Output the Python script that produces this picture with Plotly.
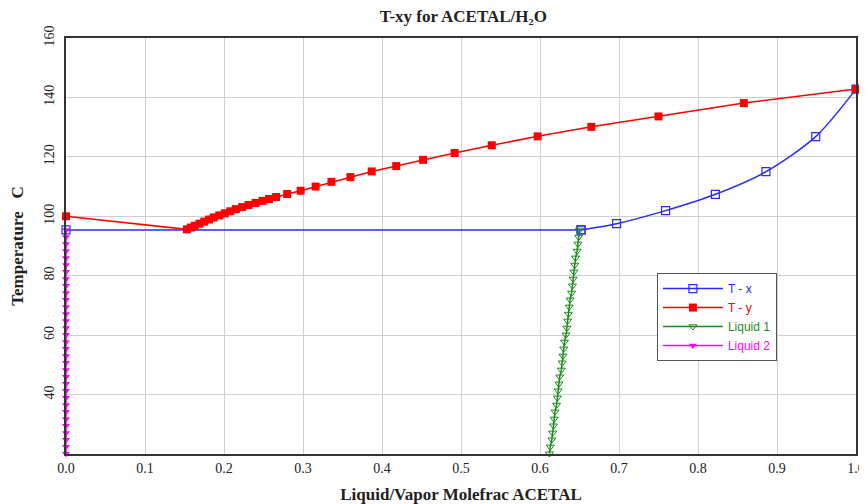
import plotly.graph_objects as go

# ---- data ----
tx_x = [0.0, 0.652, 0.697, 0.759, 0.822, 0.886, 0.949, 1.0]
tx_t = [95.4, 95.4, 97.5, 101.9, 107.4, 115.0, 126.8, 142.8]

ty_x = [0.0, 0.153, 0.158, 0.163, 0.169, 0.175, 0.181, 0.187, 0.194, 0.201, 0.208,
        0.215, 0.223, 0.231, 0.240, 0.249, 0.257, 0.266, 0.280, 0.297, 0.316,
        0.336, 0.360, 0.387, 0.418, 0.452, 0.492, 0.539, 0.597, 0.665, 0.750,
        0.858, 1.0]
ty_t = [100.0, 95.6, 96.2, 96.8, 97.5, 98.2, 98.9, 99.6, 100.3, 101.0, 101.7,
        102.4, 103.1, 103.8, 104.5, 105.2, 105.8, 106.5, 107.5, 108.6, 110.0,
        111.6, 113.2, 115.1, 116.9, 119.0, 121.3, 123.9, 126.9, 130.1, 133.6,
        138.1, 142.8]

liq_t = [95.4, 93.0, 90.7, 88.3, 86.0, 83.6, 81.3, 78.9, 76.6, 74.2, 71.9, 69.5,
         67.1, 64.8, 62.4, 60.1, 57.7, 55.4, 53.0, 50.7, 48.3, 46.0, 43.6, 41.3,
         38.9, 36.5, 34.2, 31.8, 29.5, 27.1, 24.8, 22.4, 20.1]
liq1_x = [0.650, 0.649, 0.648, 0.647, 0.645, 0.644, 0.643, 0.642, 0.641, 0.640,
          0.638, 0.637, 0.636, 0.635, 0.634, 0.633, 0.631, 0.630, 0.629, 0.628,
          0.627, 0.625, 0.624, 0.623, 0.622, 0.621, 0.619, 0.618, 0.617, 0.616,
          0.615, 0.613, 0.612]
liq2_x = [0.0] * len(liq_t)

x_ticks = [0.0, 0.1, 0.2, 0.3, 0.4, 0.5, 0.6, 0.7, 0.8, 0.9, 1.0]
y_ticks = [40, 60, 80, 100, 120, 140, 160]

BLUE = "#2a2aff"
RED = "#ff0000"
GREEN = "#1a8c1a"
MAG = "#ff00ff"

fig = go.Figure()
# T - x: flat three-phase segment (linear) + liquid branch (smooth)
fig.add_trace(go.Scatter(
    x=tx_x[:2], y=tx_t[:2], mode="lines+markers", cliponaxis=False,
    legendgroup="tx", showlegend=False,
    line=dict(color=BLUE, width=1.5),
    marker=dict(symbol="square-open", size=8, color=BLUE, line=dict(width=1.2))))
fig.add_trace(go.Scatter(
    x=tx_x[1:], y=tx_t[1:], mode="lines+markers", cliponaxis=False,
    legendgroup="tx", name=f"<span style='color:{BLUE}'>T - x</span>",
    line=dict(color=BLUE, width=1.5, shape="spline", smoothing=0.8),
    marker=dict(symbol="square-open", size=8, color=BLUE, line=dict(width=1.2))))
fig.add_trace(go.Scatter(
    x=ty_x, y=ty_t, mode="lines+markers", cliponaxis=False,
    name=f"<span style='color:{RED}'>T - y</span>",
    line=dict(color=RED, width=1.5),
    marker=dict(symbol="square", size=8, color=RED)))
fig.add_trace(go.Scatter(
    x=liq1_x, y=liq_t, mode="lines+markers", cliponaxis=False,
    name=f"<span style='color:{GREEN}'>Liquid 1</span>",
    line=dict(color=GREEN, width=1.5),
    marker=dict(symbol="triangle-down-open", size=7, color=GREEN, line=dict(width=1))))
fig.add_trace(go.Scatter(
    x=liq2_x, y=liq_t, mode="lines+markers", cliponaxis=False,
    name=f"<span style='color:{MAG}'>Liquid 2</span>",
    line=dict(color=MAG, width=1.5),
    marker=dict(symbol="triangle-down", size=7, color=MAG)))

serif = "Liberation Serif, Times New Roman, serif"
fig.update_layout(
    width=859, height=496,
    margin=dict(l=58, r=11, t=30, b=50),
    paper_bgcolor="white", plot_bgcolor="white",
    font=dict(family=serif, size=14, color="#222"),
    title=dict(text="<b>T-xy for ACETAL/H₂O</b>", x=0.53, xanchor="center",
               y=0.984, yanchor="middle",
               font=dict(family=serif, size=17, color="#222")),
    showlegend=True,
    legend=dict(x=0.748, y=0.435, xanchor="left", yanchor="top",
                bgcolor="white", bordercolor="#555", borderwidth=1,
                font=dict(family="Liberation Sans, Arial, sans-serif", size=12),
                itemwidth=60, tracegroupgap=0),
    xaxis=dict(range=[0, 1], tickvals=x_ticks, tickformat=".1f", automargin=False,
               showgrid=True, gridcolor="#cfcfcf", gridwidth=1,
               showline=True, linecolor="#333", linewidth=1.5, mirror=True,
               ticks="", zeroline=False,
               title=dict(text="<b>Liquid/Vapor Molefrac ACETAL</b>",
                          font=dict(family=serif, size=17, color="#222"), standoff=14)),
    yaxis=dict(range=[20, 160], tickvals=y_ticks, tickangle=-90, automargin=False,
               ticklabelstandoff=5,
               showgrid=True, gridcolor="#cfcfcf", gridwidth=1,
               showline=True, linecolor="#333", linewidth=1.5, mirror=True,
               ticks="", zeroline=False,
               title=dict(text="<b>Temperature&nbsp;&nbsp;&nbsp;C</b>",
                          font=dict(family=serif, size=17, color="#222"), standoff=14)),
)

fig.write_html("out.html")
